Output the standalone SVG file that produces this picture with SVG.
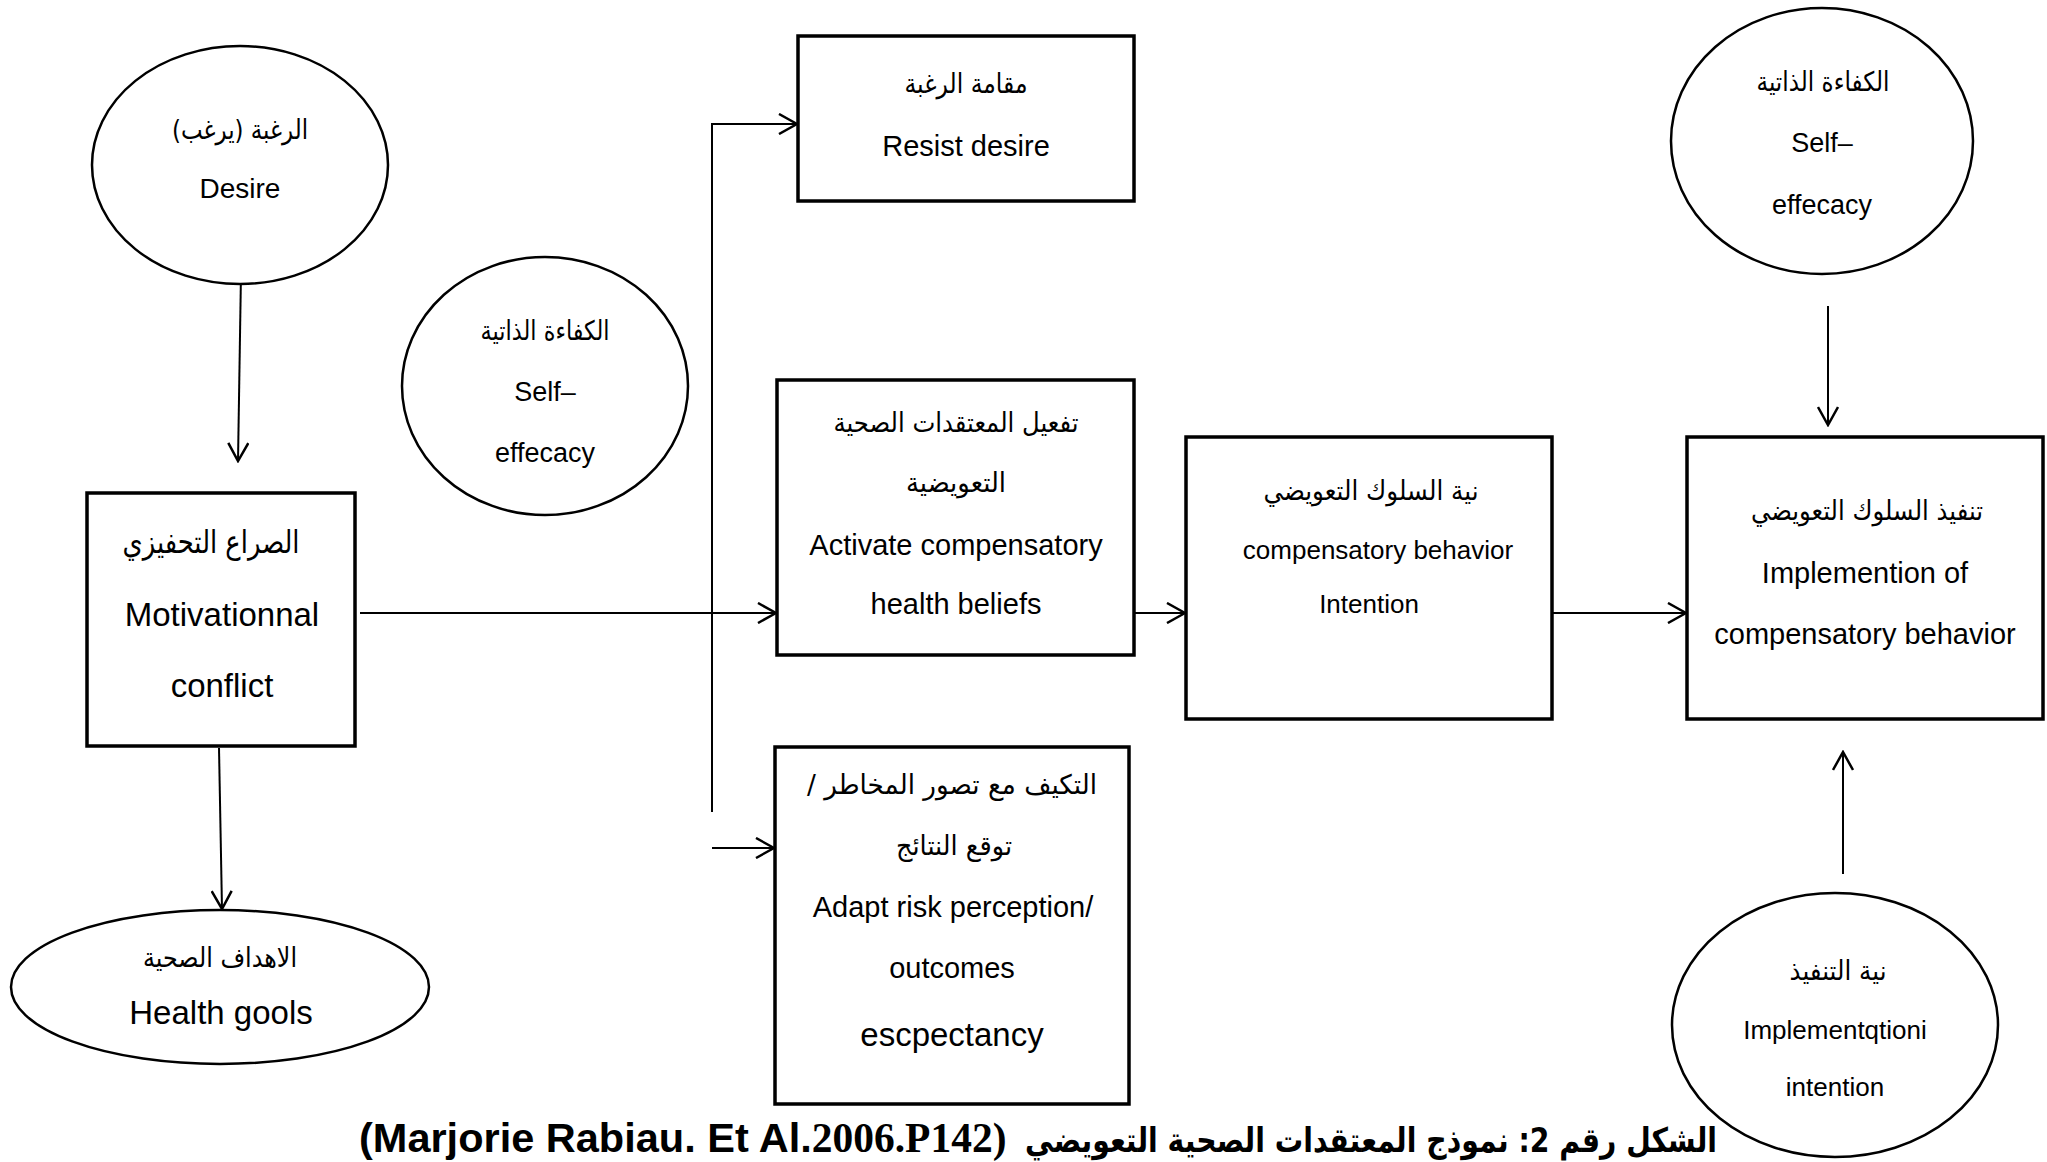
<svg xmlns="http://www.w3.org/2000/svg" width="2047" height="1162" viewBox="0 0 2047 1162">
<defs>
<style>
.box{fill:#fff;stroke:#000;stroke-width:3.5}
.ell{fill:#fff;stroke:#000;stroke-width:2.5}
.t{font-family:"Liberation Sans",Arial,sans-serif;fill:#000;text-anchor:middle}
.ar{font-family:"DejaVu Sans",sans-serif;fill:#000;text-anchor:middle;direction:rtl;unicode-bidi:embed;font-size:27px}
.c{stroke:#000;stroke-width:2;fill:none}
.a{marker-end:url(#arr)}
</style>
<marker id="arr" viewBox="0 0 22 22" refX="20" refY="11" markerWidth="22" markerHeight="22" markerUnits="userSpaceOnUse" orient="auto">
<path d="M2,1 L20,11 L2,21" fill="none" stroke="#000" stroke-width="2.5"/>
</marker>
</defs>
<rect width="2047" height="1162" fill="#fff"/>

<g id="connectors">
<line class="c a" x1="241" y1="273" x2="238" y2="461"/>
<line class="c a" x1="219" y1="748" x2="222" y2="909"/>
<line class="c a" x1="360" y1="613" x2="776" y2="613"/>
<polyline class="c a" points="712,812 712,124 797,124"/>
<line class="c a" x1="712" y1="848" x2="774" y2="848"/>
<line class="c a" x1="1135" y1="613" x2="1185" y2="613"/>
<line class="c a" x1="1553" y1="613" x2="1686" y2="613"/>
<line class="c a" x1="1828" y1="306" x2="1828" y2="425"/>
<line class="c a" x1="1843" y1="874" x2="1843" y2="752"/>
</g>

<g id="desire">
<ellipse class="ell" cx="240" cy="165" rx="148" ry="119"/>
<text class="ar" x="240" y="139" textLength="136" lengthAdjust="spacingAndGlyphs">الرغبة (يرغب)</text>
<text class="t" x="240" y="198" font-size="28">Desire</text>
</g>

<g id="self-efficacy-left">
<ellipse class="ell" cx="545" cy="386" rx="143" ry="129"/>
<text class="ar" x="545" y="340" textLength="129" lengthAdjust="spacingAndGlyphs">الكفاءة الذاتية</text>
<text class="t" x="545" y="401" font-size="27">Self–</text>
<text class="t" x="545" y="462" font-size="27">effecacy</text>
</g>

<g id="motivational-conflict">
<rect class="box" x="87" y="493" width="268" height="253"/>
<text class="ar" x="211" y="553" style="font-size:32px" textLength="177" lengthAdjust="spacingAndGlyphs">الصراع التحفيزي</text>
<text class="t" x="222" y="626" font-size="33">Motivationnal</text>
<text class="t" x="222" y="697" font-size="33">conflict</text>
</g>

<g id="health-goals">
<ellipse class="ell" cx="220" cy="987" rx="209" ry="77"/>
<text class="ar" x="220" y="967" textLength="154" lengthAdjust="spacingAndGlyphs">الاهداف الصحية</text>
<text class="t" x="221" y="1024" font-size="33">Health gools</text>
</g>

<g id="resist-desire">
<rect class="box" x="798" y="36" width="336" height="165"/>
<text class="ar" x="966" y="93" textLength="123" lengthAdjust="spacingAndGlyphs">مقامة الرغبة</text>
<text class="t" x="966" y="156" font-size="29">Resist desire</text>
</g>

<g id="activate-beliefs">
<rect class="box" x="777" y="380" width="357" height="275"/>
<text class="ar" x="956" y="432" textLength="245" lengthAdjust="spacingAndGlyphs">تفعيل المعتقدات الصحية</text>
<text class="ar" x="956" y="492" textLength="100" lengthAdjust="spacingAndGlyphs">التعويضية</text>
<text class="t" x="956" y="555" font-size="29">Activate compensatory</text>
<text class="t" x="956" y="614" font-size="29">health beliefs</text>
</g>

<g id="adapt-risk">
<rect class="box" x="775" y="747" width="354" height="357"/>
<text class="ar" x="952" y="794" textLength="290" lengthAdjust="spacingAndGlyphs">التكيف مع تصور المخاطر /</text>
<text class="ar" x="954" y="855" textLength="116" lengthAdjust="spacingAndGlyphs">توقع النتائج</text>
<text class="t" x="953" y="917" font-size="29">Adapt risk perception/</text>
<text class="t" x="952" y="978" font-size="29">outcomes</text>
<text class="t" x="952" y="1046" font-size="33">escpectancy</text>
</g>

<g id="intention">
<rect class="box" x="1186" y="437" width="366" height="282"/>
<text class="ar" x="1371" y="500" textLength="215" lengthAdjust="spacingAndGlyphs">نية السلوك التعويضي</text>
<text class="t" x="1378" y="559" font-size="26">compensatory behavior</text>
<text class="t" x="1369" y="613" font-size="26">Intention</text>
</g>

<g id="implementation">
<rect class="box" x="1687" y="437" width="356" height="282"/>
<text class="ar" x="1867" y="520" textLength="232" lengthAdjust="spacingAndGlyphs">تنفيذ السلوك التعويضي</text>
<text class="t" x="1865" y="583" font-size="29">Implemention of</text>
<text class="t" x="1865" y="644" font-size="29">compensatory behavior</text>
</g>

<g id="self-efficacy-right">
<ellipse class="ell" cx="1822" cy="141" rx="151" ry="133"/>
<text class="ar" x="1823" y="91" textLength="133" lengthAdjust="spacingAndGlyphs">الكفاءة الذاتية</text>
<text class="t" x="1822" y="152" font-size="27">Self–</text>
<text class="t" x="1822" y="214" font-size="27">effecacy</text>
</g>

<g id="implementation-intention">
<ellipse class="ell" cx="1835" cy="1025" rx="163" ry="132"/>
<text class="ar" x="1838" y="980" textLength="97" lengthAdjust="spacingAndGlyphs">نية التنفيذ</text>
<text class="t" x="1835" y="1039" font-size="26">Implementqtioni</text>
<text class="t" x="1835" y="1096" font-size="26">intention</text>
</g>

<g id="caption">
<text x="359" y="1152" font-family="Liberation Sans, Arial, sans-serif" font-weight="bold" font-size="41.5">(Marjorie Rabiau. Et Al.<tspan font-family="Liberation Serif, Times New Roman, serif">2006.P142)</tspan></text>
<text x="1371" y="1152" font-family="DejaVu Sans, sans-serif" font-weight="bold" font-size="34" text-anchor="middle" direction="rtl" unicode-bidi="embed" textLength="692" lengthAdjust="spacingAndGlyphs">الشكل رقم 2: نموذج المعتقدات الصحية التعويضي</text>
</g>
</svg>
